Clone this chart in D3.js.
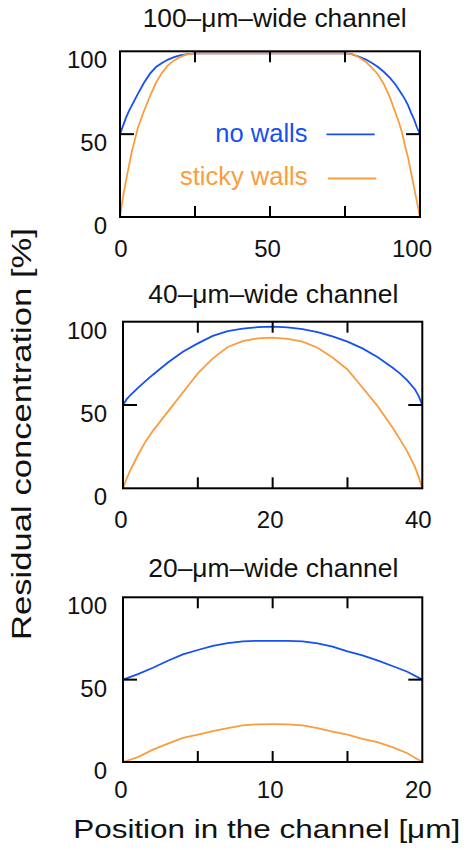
<!DOCTYPE html>
<html>
<head>
<meta charset="utf-8">
<script src="https://cdn.jsdelivr.net/npm/d3@7"></script>
<style>
  body { margin: 0; background: #fff; }
  svg text { font-family: "Liberation Sans", Arial, sans-serif; fill: #111; }
</style>
</head>
<body>
<div id="chart"></div>
<script>
// channel widths, titles and tick labels
const channelWidths = [100, 40, 20];
const titles = ["100–μm–wide channel", "40–μm–wide channel", "20–μm–wide channel"];
const xTickLabels = [[0, 50, 100], [0, 20, 40], [0, 10, 20]];
const yTickLabels = [0, 50, 100];
const seriesNames = ["no walls", "sticky walls"];

// 100 um channel
const pos100NoWalls = [0, 1, 2, 3, 4, 5, 6, 8, 10, 12, 14, 16, 18, 20, 22, 25, 50, 75, 77, 80, 82, 84, 86, 88, 90, 92, 94, 95, 96, 97, 98, 99, 100];
const noWalls100 = [50, 55, 60, 64, 67.5, 71, 74.5, 81, 86.5, 90.5, 93, 95, 96.5, 97.5, 98.2, 98.7, 98.7, 98.7, 98.5, 96.5, 95, 93, 90.5, 87.5, 84, 79.5, 74, 71, 67.5, 63, 59, 54, 50];
const pos100Sticky = [0, 1, 2, 3, 4, 5, 6, 7, 8, 10, 12, 14, 16, 18, 20, 22, 25, 50, 75, 78, 80, 82, 84, 86, 88, 90, 92, 93, 94, 95, 96, 97, 98, 99, 100];
const sticky100 = [0, 12, 22, 31, 40, 47, 54, 59, 64, 73, 81, 87, 91.5, 94.5, 96.5, 98, 98.7, 98.7, 98.7, 98, 96, 93.5, 90, 86, 80, 72, 62, 57, 51, 43, 36, 27, 18, 9, 0];

// 40 um channel
const pos40 = [0, 0.5, 1, 2, 3, 4, 6, 8, 10, 12, 14, 16, 18, 20, 22, 24, 26, 28, 30, 32, 34, 36, 37, 38, 39, 39.5, 40];
const noWalls40 = [50, 53.5, 56, 60.3, 64.3, 68.2, 75.5, 82, 87, 91.5, 94.3, 95.8, 96.7, 97, 96.6, 95.5, 93.7, 91.2, 88, 84, 78.8, 72.5, 69, 64.8, 59.5, 55.5, 50];
const sticky40 = [0, 6, 11, 20, 28, 34.5, 46, 57.5, 69, 78, 84.8, 88.3, 90, 90.4, 89.7, 88, 84.4, 78.5, 71.3, 60.5, 49.5, 36.6, 29.5, 22, 13, 7, 0];

// 20 um channel
const pos20 = [0, 1, 2, 3, 4, 5, 6, 7, 8, 9, 10, 11, 12, 13, 14, 15, 16, 17, 18, 19, 20];
const noWalls20 = [50, 53.4, 57.2, 61.5, 65.3, 68, 70.5, 72.2, 73.3, 73.6, 73.6, 73.6, 73.2, 72, 70, 67.2, 64.7, 61.7, 58.3, 54.8, 50];
const sticky20 = [0, 3, 7.5, 11.2, 14.7, 16.6, 18.8, 20.6, 22.2, 22.9, 23, 22.9, 22.2, 20.6, 18.4, 16.6, 14, 12, 9, 5.3, 0];

const blue = "#1550f0";
const orange = "#f99d3e";

const W = 464, H = 850;
const svg = d3.select("#chart").append("svg")
  .attr("width", W)
  .attr("height", H);

// panel boxes (pixels)
const boxes = [
  { x0: 120, x1: 420, y0: 51.3, y1: 217, titleX: 274.7, titleY: 26.7, titleLen: 264, xlabDy: 40, lastDx: -8 },
  { x0: 123, x1: 422.3, y0: 321.7, y1: 488.3, titleX: 273.3, titleY: 302.7, titleLen: 250, xlabDy: 40, lastDx: -4 },
  { x0: 123, x1: 422.3, y0: 597.3, y1: 762, titleX: 273.3, titleY: 577.3, titleLen: 250, xlabDy: 36, lastDx: -4 }
];

const curves = [
  [zip(pos100NoWalls, noWalls100), zip(pos100Sticky, sticky100)],
  [zip(pos40, noWalls40), zip(pos40, sticky40)],
  [zip(pos20, noWalls20), zip(pos20, sticky20)]
];

function zip(xs, ys) {
  return xs.map((x, i) => ({ x: x, y: ys[i] }));
}

boxes.forEach((b, p) => {
  const wd = channelWidths[p];
  const x = d3.scaleLinear().domain([0, wd]).range([b.x0, b.x1]);
  const y = d3.scaleLinear().domain([0, 100]).range([b.y1, b.y0]);
  const g = svg.append("g");

  // title
  g.append("text")
    .attr("x", b.titleX).attr("y", b.titleY)
    .attr("text-anchor", "middle")
    .attr("font-size", 25)
    .attr("textLength", b.titleLen)
    .attr("lengthAdjust", "spacingAndGlyphs")
    .text(titles[p]);

  // curves
  const line = d3.line().x(d => x(d.x)).y(d => y(d.y));
  [blue, orange].forEach((c, i) => {
    g.append("path")
      .datum(curves[p][i])
      .attr("fill", "none")
      .attr("stroke", c)
      .attr("stroke-width", 1.8)
      .attr("d", line);
  });

  // inward ticks: x at quarter positions, y at 50
  const xt = [wd / 4, wd / 2, 3 * wd / 4];
  xt.forEach(v => {
    g.append("line").attr("x1", x(v)).attr("x2", x(v)).attr("y1", b.y1).attr("y2", b.y1 - 11)
      .attr("stroke", "#000").attr("stroke-width", 2);
    g.append("line").attr("x1", x(v)).attr("x2", x(v)).attr("y1", b.y0).attr("y2", b.y0 + 11)
      .attr("stroke", "#000").attr("stroke-width", 2);
  });
  g.append("line").attr("x1", b.x0).attr("x2", b.x0 + 14).attr("y1", y(50)).attr("y2", y(50))
    .attr("stroke", "#000").attr("stroke-width", 2);
  g.append("line").attr("x1", b.x1).attr("x2", b.x1 - 14).attr("y1", y(50)).attr("y2", y(50))
    .attr("stroke", "#000").attr("stroke-width", 2);

  // frame
  g.append("rect")
    .attr("x", b.x0).attr("y", b.y0)
    .attr("width", b.x1 - b.x0).attr("height", b.y1 - b.y0)
    .attr("fill", "none").attr("stroke", "#000").attr("stroke-width", 2);

  // y tick labels (top aligned with the tick)
  yTickLabels.forEach(v => {
    g.append("text")
      .attr("x", 107).attr("y", y(v) + 17)
      .attr("text-anchor", "end")
      .attr("font-size", 24)
      .text(v);
  });

  // x tick labels
  xTickLabels[p].forEach((v, i) => {
    let dx = i === 0 ? (p === 0 ? 1 : -2) : (i === 1 ? -2.5 : b.lastDx);
    g.append("text")
      .attr("x", x(v) + dx).attr("y", b.y1 + b.xlabDy)
      .attr("text-anchor", "middle")
      .attr("font-size", 24)
      .text(v);
  });
});

// legend in the top panel
const legendRows = [
  { name: seriesNames[0], color: blue, ty: 141.7, ly: 134.3, lx0: 326.5, lx1: 374.7 },
  { name: seriesNames[1], color: orange, ty: 185, ly: 178.5, lx0: 328, lx1: 376.3 }
];
legendRows.forEach(r => {
  svg.append("text")
    .attr("x", 307.5).attr("y", r.ty)
    .attr("text-anchor", "end")
    .attr("font-size", 25.5)
    .style("fill", r.color)
    .text(r.name);
  svg.append("line")
    .attr("x1", r.lx0).attr("x2", r.lx1).attr("y1", r.ly).attr("y2", r.ly)
    .attr("stroke", r.color).attr("stroke-width", 1.8);
});

// axis titles
svg.append("text")
  .attr("transform", "translate(31,434) rotate(-90)")
  .attr("text-anchor", "middle")
  .attr("font-size", 27)
  .attr("textLength", 412)
  .attr("lengthAdjust", "spacingAndGlyphs")
  .text("Residual concentration [%]");

svg.append("text")
  .attr("x", 266.7).attr("y", 838)
  .attr("text-anchor", "middle")
  .attr("font-size", 26)
  .attr("textLength", 387)
  .attr("lengthAdjust", "spacingAndGlyphs")
  .text("Position in the channel [μm]");
</script>
</body>
</html>
